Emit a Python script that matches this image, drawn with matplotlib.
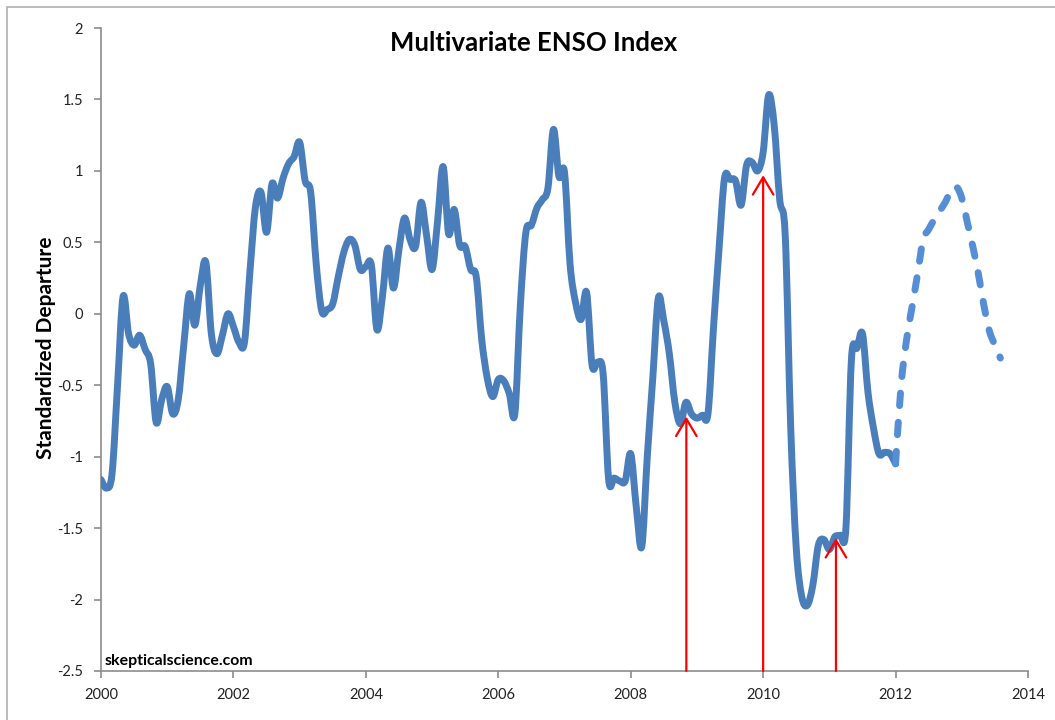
import numpy as np
import matplotlib
matplotlib.use("Agg")
import matplotlib.pyplot as plt
from matplotlib.patches import Rectangle, PathPatch
from matplotlib.path import Path

plt.rcParams['font.family'] = ['Lato', 'DejaVu Sans']
plt.rcParams['lines.scale_dashes'] = False

# ---- data (monthly MEI values) ----
start_year = 2000.0
mei_observed = [
    -1.16, -1.22, -1.12, -0.50, 0.12, -0.14, -0.22, -0.15, -0.25, -0.35, -0.76, -0.60,   # 2000
    -0.51, -0.70, -0.60, -0.22, 0.14, -0.08, 0.20, 0.36, -0.14, -0.28, -0.15, 0.00,      # 2001
    -0.09, -0.20, -0.20, 0.30, 0.75, 0.85, 0.57, 0.91, 0.81, 0.95, 1.05, 1.10,           # 2002
    1.20, 0.93, 0.85, 0.35, 0.02, 0.03, 0.07, 0.26, 0.43, 0.52, 0.48, 0.31,              # 2003
    0.33, 0.34, -0.11, 0.12, 0.46, 0.18, 0.45, 0.67, 0.52, 0.47, 0.78, 0.55,             # 2004
    0.31, 0.65, 1.03, 0.56, 0.73, 0.48, 0.47, 0.31, 0.26, -0.18, -0.45, -0.58,           # 2005
    -0.46, -0.47, -0.56, -0.70, 0.06, 0.57, 0.62, 0.74, 0.80, 0.88, 1.29, 0.96,          # 2006
    0.99, 0.35, 0.08, -0.04, 0.15, -0.36, -0.34, -0.42, -1.16, -1.15, -1.17, -1.17,      # 2007
    -0.98, -1.35, -1.63, -1.00, -0.45, 0.11, -0.05, -0.28, -0.62, -0.77, -0.62, -0.70,   # 2008
    -0.73, -0.71, -0.70, -0.10, 0.45, 0.95, 0.94, 0.93, 0.76, 1.04, 1.06, 1.00,          # 2009
    1.13, 1.53, 1.32, 0.80, 0.55, -0.80, -1.64, -1.98, -2.04, -1.90, -1.62, -1.58,       # 2010
    -1.65, -1.56, -1.55, -1.50, -0.32, -0.24, -0.14, -0.55, -0.80, -0.98, -0.97, -0.98,  # 2011
    -1.05,                                                                              # 2012 Jan
]
forecast_start_year = 2012.0
mei_forecast = [
    -1.05, -0.50, -0.18, 0.05, 0.28, 0.52, 0.59, 0.66, 0.72, 0.78, 0.86, 0.89,
    0.81, 0.64, 0.47, 0.28, 0.06, -0.12, -0.22, -0.31,
]
arrow_years = [2008.84, 2010.0, 2011.1]
arrow_values = [-0.72, 0.97, -1.57]

x_ticks = [2000, 2002, 2004, 2006, 2008, 2010, 2012, 2014]
y_ticks = [-2.5, -2, -1.5, -1, -0.5, 0, 0.5, 1, 1.5, 2]
y_tick_labels = ['-2.5', '-2', '-1.5', '-1', '-0.5', '0', '0.5', '1', '1.5', '2']

title = "Multivariate ENSO Index"
y_label = "Standardized Departure"
credit = "skepticalscience.com"


def smooth_path(xs, ys):
    """Excel-style smoothed line: cubic Bezier segments through every data point."""
    xs = np.asarray(xs, float)
    ys = np.asarray(ys, float)
    pts = np.column_stack([xs, ys])
    n = len(pts)
    verts = [pts[0]]
    codes = [Path.MOVETO]
    for i in range(n - 1):
        p0 = pts[i - 1] if i > 0 else pts[i]
        p1 = pts[i]
        p2 = pts[i + 1]
        p3 = pts[i + 2] if i + 2 < n else pts[i + 1]
        c1 = p1 + (p2 - p0) / 6.0
        c2 = p2 - (p3 - p1) / 6.0
        verts += [c1, c2, p2]
        codes += [Path.CURVE4] * 3
    return Path(verts, codes)


# ---- figure ----
W, H = 1055, 720
fig = plt.figure(figsize=(W / 100, H / 100), dpi=100)
fig.patch.set_facecolor('white')
fig.patches.append(Rectangle((7 / W, -0.1), 1.2, 1 - 7 / H + 0.1, transform=fig.transFigure,
                             fill=False, edgecolor='#b0b0b0', linewidth=1.2))

ax = fig.add_axes([101 / W, 1 - 671 / H, (1028 - 101) / W, (671 - 28) / H])

x_obs = start_year + np.arange(len(mei_observed)) / 12.0
x_fc = forecast_start_year + np.arange(len(mei_forecast)) / 12.0

obs_patch = PathPatch(smooth_path(x_obs, mei_observed), fill=False, edgecolor='#4a7ebb',
                      linewidth=5.0, joinstyle='round', capstyle='round', zorder=3)
ax.add_patch(obs_patch)
fc_patch = PathPatch(smooth_path(x_fc, mei_forecast), fill=False, edgecolor='#558ed5',
                     linewidth=5.0, linestyle=(0, (9, 12)), capstyle='round',
                     joinstyle='round', zorder=3)
ax.add_patch(fc_patch)

for xa, ya in zip(arrow_years, arrow_values):
    ax.annotate('', xy=(xa, ya), xytext=(xa, -2.5),
                arrowprops=dict(arrowstyle='->,head_length=0.62,head_width=0.37',
                                color='#ff0000', lw=1.6, shrinkA=0, shrinkB=0,
                                mutation_scale=20),
                zorder=4, annotation_clip=False)

ax.set_xlim(2000, 2014)
ax.set_ylim(-2.5, 2)
ax.set_xticks(x_ticks)
ax.set_xticklabels([str(t) for t in x_ticks])
ax.set_yticks(y_ticks)
ax.set_yticklabels(y_tick_labels)

for s in ['top', 'right']:
    ax.spines[s].set_visible(False)
for s in ['left', 'bottom']:
    ax.spines[s].set_color('#8c8c8c')
    ax.spines[s].set_linewidth(1.2)
ax.tick_params(axis='both', direction='out', length=5, width=1.2, color='#8c8c8c',
               labelsize=10.5, labelcolor='#222222')
ax.tick_params(axis='y', pad=8)
ax.tick_params(axis='x', pad=7)

fig.text(46 / W, 1 - 348 / H, y_label, rotation=90, ha='center', va='center',
         fontsize=15, fontweight='bold')
fig.text(534 / W, 1 - 43 / H, title, ha='center', va='center',
         fontsize=18.5, fontweight='bold')
fig.text(105 / W, 1 - 661 / H, credit, ha='left', va='center',
         fontsize=11.4, fontweight='bold')

fig.savefig('out.png', dpi=100, facecolor='white')
